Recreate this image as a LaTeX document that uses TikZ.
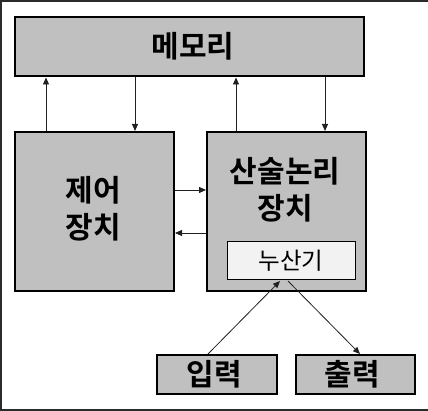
\documentclass[tikz,border=0pt]{standalone}
\usepackage{fontspec}
\newfontfamily\kr{Noto Sans CJK KR}[BoldFont={* Bold}]
\usetikzlibrary{arrows.meta}
\definecolor{boxgray}{HTML}{C0C0C0}
\definecolor{accgray}{HTML}{F2F2F2}
\definecolor{framegray}{HTML}{2B2B2B}
\definecolor{linegray}{HTML}{202020}
\tikzset{
  graybox/.style={draw=black, line width=1.3pt, fill=boxgray},
  accbox/.style={draw=black, line width=1pt, fill=accgray},
  bigtxt/.style={font=\kr\bfseries\fontsize{30}{37}\selectfont, align=center, inner sep=0pt},
  acctxt/.style={font=\kr\fontsize{23.5}{26}\selectfont, inner sep=0pt},
  conn/.style={draw=linegray, line width=0.8pt, -{Triangle[length=7pt,width=6pt]}},
}
\begin{document}
\begin{tikzpicture}[x=1pt,y=-1pt]
\useasboundingbox (0,0) rectangle (428,411);
\fill[white] (0,0) rectangle (428,411);
% frame
\fill[framegray] (0,0) rectangle (428,2.5);
\fill[framegray] (0,0) rectangle (1.5,411);
\fill[framegray] (0,408.5) rectangle (428,411);
% boxes
\path[graybox] (15,17) rectangle (364,76);
\node[bigtxt] (mem) at (193,46.5) {메모리};
\path[graybox] (15,132) rectangle (174,291);
\node[bigtxt] (ctl) at (93,208.5) {제어\\장치};
\path[graybox] (207,132) rectangle (366,291);
\node[bigtxt] (alu) at (285,190) {산술논리\\장치};
\path[accbox] (227,242) rectangle (355,280);
\node[acctxt] (acc) at (291,261) {누산기};
\path[graybox] (157,355) rectangle (277,394);
\node[bigtxt] (in) at (214,374.5) {입력};
\path[graybox] (296,355) rectangle (415,394);
\node[bigtxt] (out) at (352,374.5) {출력};
% connector anchors
\coordinate (c1) at (46,131);   \coordinate (m1) at (46,77.5);
\coordinate (m2) at (135,77.5); \coordinate (c2) at (135,131);
\coordinate (a1) at (236,131);  \coordinate (m3) at (236,77.5);
\coordinate (m4) at (325,77.5); \coordinate (a2) at (325,131);
\coordinate (cr) at (175,190);  \coordinate (al) at (206,190);
\coordinate (al2) at (206,233); \coordinate (cr2) at (175,233);
\coordinate (inT) at (208,354); \coordinate (accB1) at (280,281);
\coordinate (accB2) at (288,281); \coordinate (outT) at (360,354);
\draw[conn] (c1) -- (m1);
\draw[conn] (m2) -- (c2);
\draw[conn] (a1) -- (m3);
\draw[conn] (m4) -- (a2);
\draw[conn] (cr) -- (al);
\draw[conn] (al2) -- (cr2);
\draw[conn] (inT) -- (accB1);
\draw[conn] (accB2) -- (outT);
\end{tikzpicture}
\end{document}
